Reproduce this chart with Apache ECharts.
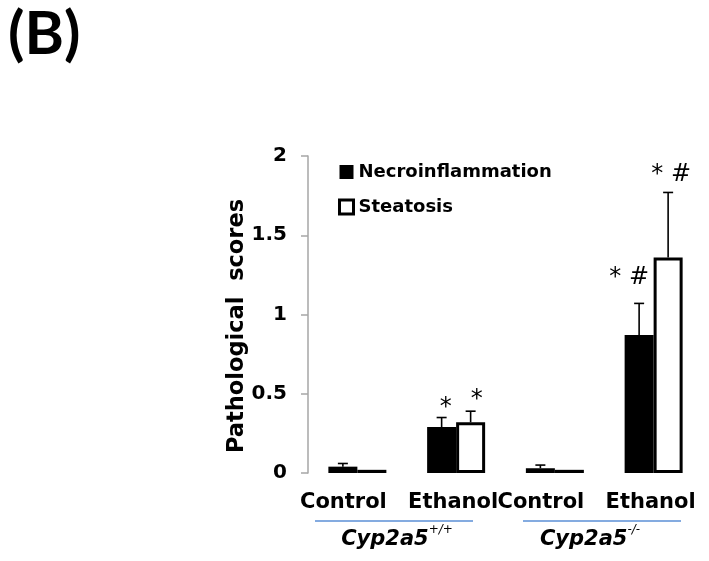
<!DOCTYPE html>
<html><head><meta charset="utf-8">
<script src="https://cdn.jsdelivr.net/npm/echarts@6/dist/echarts.min.js"></script>
<style>html,body{margin:0;padding:0;background:#fff}#c{width:709px;height:561px}</style>
</head><body><div id="c"></div>
<script>
const categories = ['Control', 'Ethanol', 'Control', 'Ethanol'];
const seriesNames = ['Necroinflammation', 'Steatosis'];
const necro = [0.04, 0.29, 0.03, 0.87];
const steat = [0.02, 0.32, 0.02, 1.36];
const necroErr = [0.02, 0.06, 0.02, 0.20];
const steatErr = [0.0, 0.07, 0.0, 0.41];
const necroSig = ['', '*', '', '* #'];
const steatSig = ['', '*', '', '* #'];
const groupLabels = [{base: 'Cyp2a5', sup: '+/+'}, {base: 'Cyp2a5', sup: '-/-'}];
const yTitle = 'Pathological  scores';
const panelLabel = '(B)';

// layout of significance marks (pixel offsets relative to error-bar top)
const necroSigLayout = [null, {dx: 4, gap: -2}, null, {dx: -10, gap: 14}];
const steatSigLayout = [null, {dx: 6, gap: -1}, null, {dx: 3, gap: 6}];

const FONT = 'DejaVu Sans';
const BAR_W = 29;

function errSeries(vals, errs, sig, layout, side) {
  return {
    type: 'custom',
    z: 5,
    data: vals.map((v, i) => [i, v, errs[i]]),
    renderItem(params, api) {
      const i = api.value(0), v = api.value(1), e = api.value(2);
      const base = api.coord([i, v]);
      const top = api.coord([i, v + e]);
      const x = base[0] + side * BAR_W / 2;
      const children = [];
      if (e > 0) {
        children.push({type: 'line', shape: {x1: x, y1: base[1], x2: x, y2: top[1]}, style: {stroke: '#000', lineWidth: 1.6}});
        children.push({type: 'line', shape: {x1: x - 5, y1: top[1], x2: x + 5, y2: top[1]}, style: {stroke: '#000', lineWidth: 1.6}});
      }
      const s = sig[params.dataIndex];
      const L = layout[params.dataIndex];
      if (s && L) {
        children.push({type: 'text', style: {text: s, x: x + L.dx, y: top[1] - L.gap, align: 'center', verticalAlign: 'bottom', fontFamily: FONT, fontSize: 24, fill: '#000'}});
      }
      return {type: 'group', children};
    }
  };
}

const chart = echarts.init(document.getElementById('c'), null, {renderer: 'canvas'});
chart.setOption({
  animation: false,
  grid: {left: 308, right: 6, top: 156, bottom: 88},
  legend: {
    orient: 'vertical', left: 333, top: 158, itemWidth: 14, itemHeight: 14, itemGap: 17,
    icon: 'rect',
    textStyle: {fontFamily: FONT, fontWeight: 'bold', fontSize: 18, color: '#000'},
    data: [
      {name: seriesNames[0], itemStyle: {color: '#000'}},
      {name: seriesNames[1], itemStyle: {color: '#fff', borderColor: '#000', borderWidth: 3}}
    ]
  },
  xAxis: {
    type: 'category', data: categories,
    axisLine: {show: false}, axisTick: {show: false},
    axisLabel: {
      interval: 0,
      margin: 19,
      fontFamily: FONT, fontWeight: 'bold', fontSize: 21, color: '#000',
      formatter: (v) => v === 'Control' ? '{c|' + v + '}' : '{e|' + v + '}',
      rich: {
        c: {fontFamily: FONT, fontWeight: 'bold', fontSize: 21, color: '#000', padding: [0, 28, 0, 0]},
        e: {fontFamily: FONT, fontWeight: 'bold', fontSize: 21, color: '#000', padding: [0, 6, 0, 0]}
      }
    }
  },
  yAxis: {
    type: 'value', min: 0, max: 2, interval: 0.5,
    axisLine: {show: true, lineStyle: {color: '#a6a6a6', width: 1.5}},
    axisTick: {show: true, length: 7, lineStyle: {color: '#a6a6a6', width: 1.5}},
    splitLine: {show: false},
    axisLabel: {margin: 21, fontFamily: FONT, fontWeight: 'bold', fontSize: 20, color: '#000'}
  },
  series: [
    {name: seriesNames[0], type: 'bar', data: necro, barWidth: BAR_W, barGap: '0%', itemStyle: {color: '#000'}},
    {name: seriesNames[1], type: 'bar', data: steat, barWidth: BAR_W, barGap: '0%', itemStyle: {color: '#fff', borderColor: '#000', borderWidth: 3}},
    errSeries(necro, necroErr, necroSig, necroSigLayout, -1),
    errSeries(steat, steatErr, steatSig, steatSigLayout, 1)
  ],
  graphic: [
    {type: 'text', left: 8, top: 5, style: {text: panelLabel, fontFamily: 'Lato', fontWeight: 'bold', fontSize: 60, fill: '#000'}},
    {type: 'text', x: 237, y: 326, rotation: Math.PI / 2, style: {text: yTitle, align: 'center', verticalAlign: 'middle', fontFamily: FONT, fontWeight: 'bold', fontSize: 22.5, fill: '#000'}},
    {type: 'line', shape: {x1: 315, y1: 521, x2: 473, y2: 521}, style: {stroke: '#5b8fd6', lineWidth: 1.5}},
    {type: 'line', shape: {x1: 523, y1: 521, x2: 681, y2: 521}, style: {stroke: '#5b8fd6', lineWidth: 1.5}},
    {type: 'text', x: 397, y: 537, style: {
      text: '{b|' + groupLabels[0].base + '}{s|' + groupLabels[0].sup + '}', align: 'center', verticalAlign: 'middle',
      rich: {b: {fontFamily: FONT, fontWeight: 'bold', fontStyle: 'italic', fontSize: 21, fill: '#000', verticalAlign: 'bottom', lineHeight: 26},
             s: {fontFamily: FONT, fontStyle: 'italic', fontSize: 12, fill: '#000', verticalAlign: 'top', lineHeight: 26}}}},
    {type: 'text', x: 590, y: 537, style: {
      text: '{b|' + groupLabels[1].base + '}{s|' + groupLabels[1].sup + '}', align: 'center', verticalAlign: 'middle',
      rich: {b: {fontFamily: FONT, fontWeight: 'bold', fontStyle: 'italic', fontSize: 21, fill: '#000', verticalAlign: 'bottom', lineHeight: 26},
             s: {fontFamily: FONT, fontStyle: 'italic', fontSize: 12, fill: '#000', verticalAlign: 'top', lineHeight: 26}}}}
  ]
});
</script></body></html>
